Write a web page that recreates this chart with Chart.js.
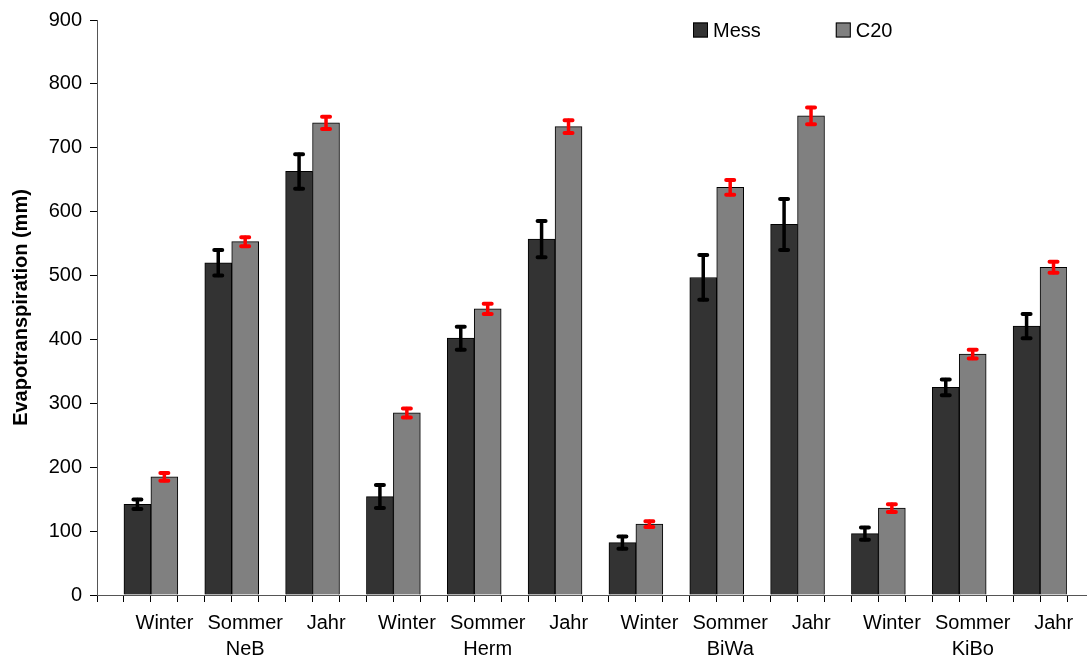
<!DOCTYPE html>
<html>
<head>
<meta charset="utf-8">
<title>Evapotranspiration</title>
<script src="https://cdn.jsdelivr.net/npm/chart.js@4.4.1/dist/chart.umd.min.js"></script>
<style>
  html, body { margin: 0; padding: 0; background: #fff; }
</style>
</head>
<body>
<canvas id="chart" width="1087" height="661"></canvas>
<script>
const sites = ['NeB', 'Herm', 'BiWa', 'KiBo'];
const seasons = ['Winter', 'Sommer', 'Jahr'];

// one value per site/season, in the order NeB W,S,J, Herm W,S,J, ...
const messValues = [142, 520, 663, 154, 402, 557, 82, 497, 580, 96, 325, 421];
const messErrors = [7.5, 20, 27, 18, 18, 28.5, 9.5, 35, 40, 9.5, 12.5, 19];
const c20Values = [185, 553, 739, 285, 448, 733, 111, 638, 750, 136, 377, 513];
const c20Errors = [6, 7, 9.5, 7, 8, 10, 4.5, 11.5, 13, 6, 7, 8.5];

const yMin = 0;
const yMax = 900;
const yStep = 100;

// site name goes under the middle season
const xLabels = sites.flatMap(site => seasons.map(s => s === 'Sommer' ? [s, site] : s));
// three slots per category (gap, Mess, C20) for the small tick marks
const slotLabels = xLabels.flatMap(() => ['', '', '']);

const fontFamily = "'Liberation Sans', Arial, sans-serif";
Chart.defaults.font.family = fontFamily;
Chart.defaults.font.size = 20;
Chart.defaults.color = '#000';

const errorBars = {
    id: 'errorBars',
    afterDatasetsDraw(chart) {
        const { ctx } = chart;
        const y = chart.scales.y;
        chart.data.datasets.forEach((ds, di) => {
            if (!ds.errors) return;
            const meta = chart.getDatasetMeta(di);
            ctx.save();
            ctx.strokeStyle = ds.errorColor;
            ctx.lineCap = 'round';
            meta.data.forEach((bar, i) => {
                const top = y.getPixelForValue(ds.data[i] + ds.errors[i]);
                const bottom = y.getPixelForValue(ds.data[i] - ds.errors[i]);
                ctx.lineWidth = 3.5;
                ctx.beginPath();
                ctx.moveTo(bar.x, top);
                ctx.lineTo(bar.x, bottom);
                ctx.stroke();
                ctx.lineWidth = 4;
                ctx.beginPath();
                ctx.moveTo(bar.x - 4, top);
                ctx.lineTo(bar.x + 4, top);
                ctx.moveTo(bar.x - 4, bottom);
                ctx.lineTo(bar.x + 4, bottom);
                ctx.stroke();
            });
            ctx.restore();
        });
    }
};

// legend drawn inside the plot, upper right, items side by side
const insideLegend = {
    id: 'insideLegend',
    afterDraw(chart, args, opts) {
        const { ctx, chartArea } = chart;
        ctx.save();
        ctx.font = '20px ' + fontFamily;
        ctx.textBaseline = 'middle';
        ctx.textAlign = 'left';
        let x = opts.x;
        chart.data.datasets.filter(ds => ds.label).forEach(ds => {
            ctx.fillStyle = ds.backgroundColor;
            ctx.fillRect(x, opts.y - 7.5, 15, 15);
            ctx.strokeStyle = ds.borderColor;
            ctx.lineWidth = 1;
            ctx.strokeRect(x + 0.5, opts.y - 7, 14, 14);
            ctx.fillStyle = '#000';
            ctx.fillText(ds.label, x + 20, opts.y + 1);
            x += 20 + ctx.measureText(ds.label).width + opts.gap;
        });

        // x axis line runs on to the right edge
        ctx.strokeStyle = '#555';
        ctx.beginPath();
        ctx.moveTo(chartArea.right, chartArea.bottom + 0.5);
        ctx.lineTo(chart.width, chartArea.bottom + 0.5);
        ctx.stroke();
        ctx.restore();
    }
};

new Chart(document.getElementById('chart'), {
    type: 'bar',
    data: {
        labels: xLabels,
        datasets: [
            {
                label: '',
                data: xLabels.map(() => null),
                backgroundColor: 'rgba(0,0,0,0)',
                xAxisID: 'x'
            },
            {
                label: 'Mess',
                data: messValues,
                errors: messErrors,
                errorColor: '#000000',
                backgroundColor: '#333333',
                borderColor: '#000000',
                borderWidth: 1,
                xAxisID: 'x'
            },
            {
                label: 'C20',
                data: c20Values,
                errors: c20Errors,
                errorColor: '#ff0000',
                backgroundColor: '#808080',
                borderColor: '#000000',
                borderWidth: 1,
                xAxisID: 'x'
            }
        ]
    },
    options: {
        responsive: false,
        animation: false,
        categoryPercentage: 1,
        barPercentage: 1,
        layout: { padding: { left: 0, right: 20, top: 20, bottom: 0 } },
        plugins: {
            tooltip: { enabled: false },
            legend: { display: false },
            insideLegend: { x: 693, y: 30, gap: 75 }
        },
        scales: {
            slots: {
                type: 'category',
                axis: 'x',
                position: 'bottom',
                labels: slotLabels,
                offset: true,
                weight: 0,
                grid: { offset: true, drawOnChartArea: false, tickLength: 7, color: '#000' },
                border: { color: '#555' },
                ticks: { display: false }
            },
            x: {
                type: 'category',
                position: 'bottom',
                offset: true,
                weight: 1,
                grid: { display: false, drawTicks: false },
                border: { display: false },
                ticks: {
                    padding: 8,
                    labelOffset: 27,
                    maxRotation: 0,
                    autoSkip: false,
                    font: { size: 20, lineHeight: 1.3 }
                },
                afterFit(scale) { scale.height = 59; }
            },
            y: {
                min: yMin,
                max: yMax,
                ticks: { stepSize: yStep, padding: 8 },
                grid: { drawOnChartArea: false, tickLength: 7, color: '#000' },
                border: { color: '#555' },
                title: {
                    display: true,
                    text: 'Evapotranspiration (mm)',
                    font: { size: 20, weight: 'bold' },
                    padding: { top: 9, bottom: 0 }
                },
                afterFit(scale) { scale.width = 97; }
            }
        }
    },
    plugins: [errorBars, insideLegend]
});
</script>
</body>
</html>
